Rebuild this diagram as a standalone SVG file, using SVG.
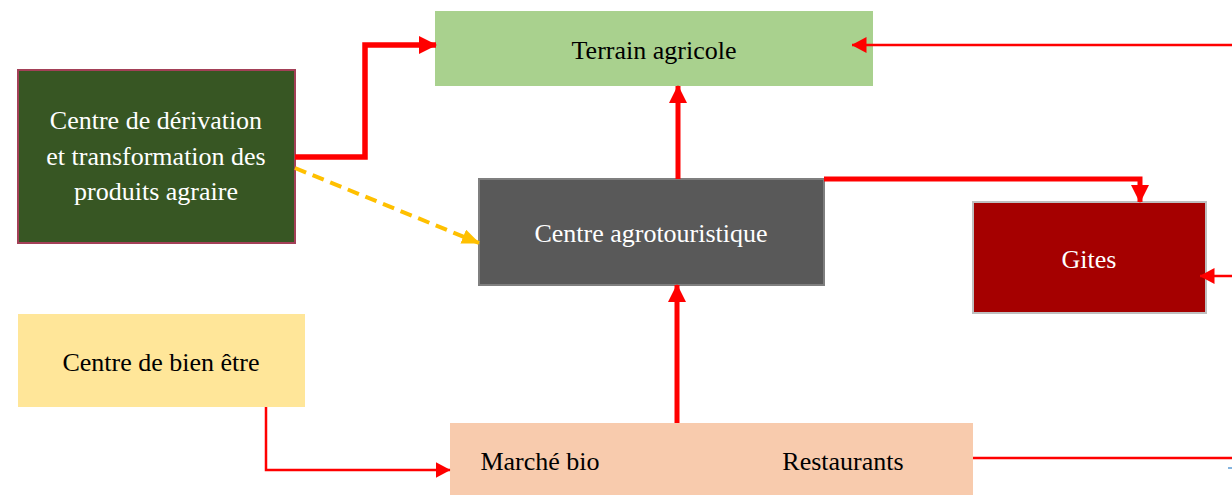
<svg xmlns="http://www.w3.org/2000/svg" width="1232" height="495" viewBox="0 0 1232 495">
<style>
text{font-family:"Liberation Serif","Times New Roman",serif;font-size:26px;text-anchor:middle;dominant-baseline:central}
.w{fill:#ffffff}
.k{fill:#000000}
.r{fill:none;stroke:#ff0000;stroke-linejoin:miter}
</style>
<defs>
<marker id="ah" markerWidth="18" markerHeight="18" refX="17" refY="9" orient="auto" markerUnits="userSpaceOnUse" viewBox="0 0 18 18"><path d="M0,0 L18,9 L0,18 Z" fill="#ff0000"/></marker>
<marker id="ah2" markerWidth="15" markerHeight="16" refX="14.5" refY="8" orient="auto" markerUnits="userSpaceOnUse" viewBox="0 0 15 16"><path d="M0,0 L15,8 L0,16 Z" fill="#ff0000"/></marker>
<marker id="ay" markerWidth="18" markerHeight="15" refX="17" refY="7.5" orient="auto" markerUnits="userSpaceOnUse" viewBox="0 0 18 15"><path d="M0,0 L18,7.5 L0,15 Z" fill="#ffc000"/></marker>
</defs>
<rect width="1232" height="495" fill="#ffffff"/>
<g id="terrain">
<rect x="435" y="11" width="438" height="75" fill="#a9d18e"/>
<text class="k" x="654" y="50">Terrain agricole</text>
</g>
<g id="derivation">
<rect x="18" y="70" width="277" height="173" fill="#375623" stroke="#a34057" stroke-width="2"/>
<text class="w" x="156" y="120">Centre de dérivation</text>
<text class="w" x="156" y="156">et transformation des</text>
<text class="w" x="156" y="191">produits agraire</text>
</g>
<g id="agrotouristique">
<rect x="479" y="179" width="345" height="106" fill="#595959" stroke="#7f7f7f" stroke-width="2"/>
<text class="w" x="651" y="233">Centre agrotouristique</text>
</g>
<g id="gites">
<rect x="973" y="202" width="233" height="111" fill="#a50000" stroke="#bfbfbf" stroke-width="2"/>
<text class="w" x="1089" y="259">Gites</text>
</g>
<g id="bienetre">
<rect x="18" y="314" width="287" height="93" fill="#ffe699"/>
<text class="k" x="161" y="362">Centre de bien être</text>
</g>
<g id="marche">
<rect x="450" y="423" width="523" height="72" fill="#f8cbad"/>
<text class="k" x="540" y="461">Marché bio</text>
<text class="k" x="843" y="461">Restaurants</text>
</g>
<g id="connectors">
<path class="r" d="M295,157 H365 V45 H436" stroke-width="5.5" marker-end="url(#ah)"/>
<path d="M295,168 L479,243" fill="none" stroke="#ffc000" stroke-width="4" stroke-dasharray="12,7" marker-end="url(#ay)"/>
<path class="r" d="M678,179 V86" stroke-width="5" marker-end="url(#ah)"/>
<path class="r" d="M824,179 H1140 V202" stroke-width="5" marker-end="url(#ah)"/>
<path class="r" d="M1232,276 H1200" stroke-width="2.5" marker-end="url(#ah2)"/>
<path class="r" d="M1232,45 H852" stroke-width="2.5" marker-end="url(#ah2)"/>
<path class="r" d="M266,407 V470 H450" stroke-width="2.5" marker-end="url(#ah2)"/>
<path class="r" d="M677,423 V285" stroke-width="5" marker-end="url(#ah)"/>
<path class="r" d="M973,458 H1232" stroke-width="2.5"/>
<path d="M1228,468 H1232" stroke="#5b9bd5" stroke-width="1.5"/>
</g>
</svg>
